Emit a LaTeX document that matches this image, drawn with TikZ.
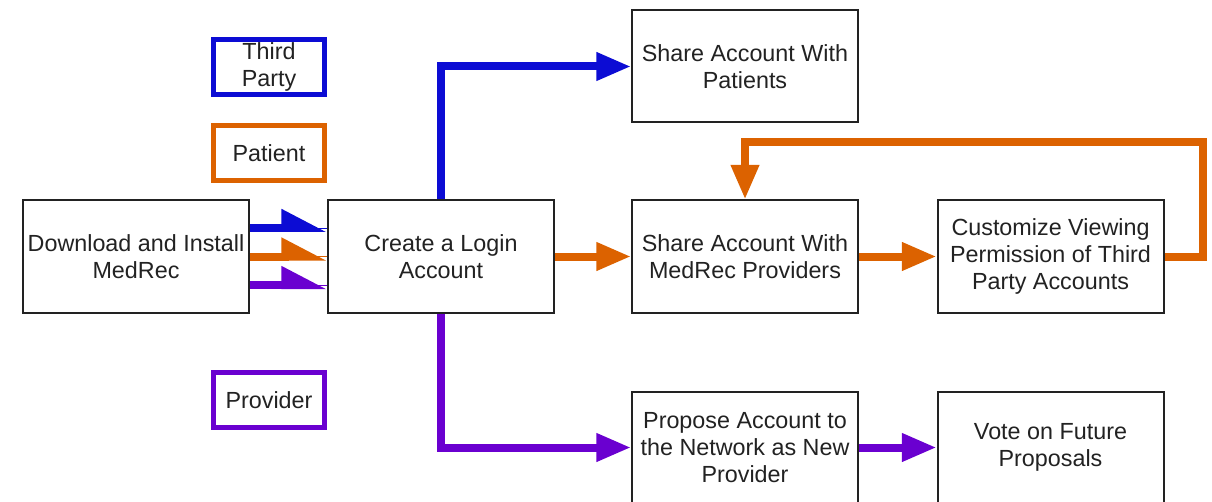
\documentclass[tikz,border=0pt]{standalone}
\usepackage{fontspec}
\setmainfont{Liberation Sans}
\usepackage{tikz}
\usetikzlibrary{arrows.meta,positioning,backgrounds}
\definecolor{thirdc}{HTML}{0C0CD4}
\definecolor{patc}{HTML}{DC6200}
\definecolor{provc}{HTML}{6A00D0}
\definecolor{linec}{HTML}{222222}
\tikzset{
  stepbox/.style={draw=linec,line width=1.5pt,fill=white,minimum width=169.5pt,minimum height=84pt,inner sep=1pt,align=center,text=linec,font=\fontsize{17.5}{20}\selectfont},
  rolebox/.style={line width=3.75pt,fill=white,minimum width=83pt,minimum height=41pt,inner sep=1pt,align=center,text=linec,font=\fontsize{17.5}{20}\selectfont},
  flow/.style={line width=6pt,-{Triangle[length=26pt,width=20pt]}},
  halfflow/.style={line width=6pt,draw=#1,fill=#1,preaction={draw=#1,-},-{Triangle[harpoon,length=28pt,width=27pt]}},
}
\begin{document}
\begin{tikzpicture}[x=0.75pt,y=-0.75pt]
  \useasboundingbox (0,0) rectangle (1212,502);
  \node[rolebox,draw=thirdc] (third) at (269,67) {Third\\Party};
  \node[rolebox,draw=patc] (patient) at (269,153) {Patient};
  \node[rolebox,draw=provc] (provider) at (269,400) {Provider};
  \node[stepbox] (install) at (136,256.5) {Download and Install\\MedRec};
  \node[stepbox] (login) at (441,256.5) {Create a Login\\Account};
  \node[stepbox] (sharepat) at (745,66.5) {Share Account With\\Patients};
  \node[stepbox] (sharemr) at (745,256.5) {Share Account With\\MedRec Providers};
  \node[stepbox] (custom) at (1050.5,256.5) {Customize Viewing\\Permission of Third\\Party Accounts};
  \node[stepbox] (propose) at (745,447.5) {Propose Account to\\the Network as New\\Provider};
  \node[stepbox] (vote) at (1050.5,447.5) {Vote on Future\\Proposals};
  \coordinate (loop) at (1203,142);
  \begin{scope}[on background layer]
    \draw[halfflow=thirdc] ([yshift=21.4pt]install.east) -- ([yshift=21.4pt]login.west);
    \draw[halfflow=patc] (install.east) -- (login.west);
    \draw[halfflow=provc] ([yshift=-21.4pt]install.east) -- ([yshift=-21.4pt]login.west);
    \draw[flow,thirdc] (login.north) |- (sharepat.west);
    \draw[flow,patc] (login.east) -- (sharemr.west);
    \draw[flow,patc] (sharemr.east) -- (custom.west);
    \draw[flow,patc] (custom.east) -| (loop) -| (sharemr.north);
    \draw[flow,provc] (login.south) |- (propose.west);
    \draw[flow,provc] (propose.east) -- (vote.west);
  \end{scope}
\end{tikzpicture}
\end{document}
